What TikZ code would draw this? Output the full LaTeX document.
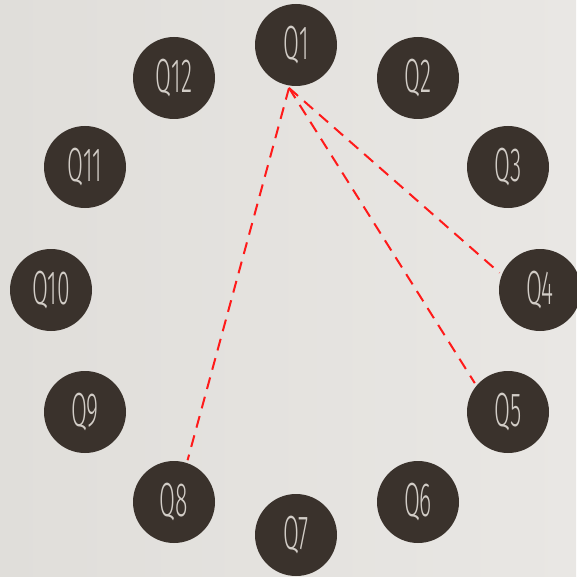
\documentclass[tikz,border=0pt]{standalone}
\usepackage{fontspec}
\newfontfamily\qfont{Fira Sans Light}
\definecolor{bgc}{HTML}{E0DEDA}
\definecolor{bgl}{HTML}{E9E7E4}
\definecolor{disc}{HTML}{3A322C}
\definecolor{qtxt}{HTML}{D2CDC7}
\definecolor{dred}{HTML}{FF1A1A}
\tikzset{
  qdisc/.style={circle, fill=disc, minimum size=82pt, inner sep=0pt, outer sep=3pt,
    text=qtxt, font=\qfont\fontsize{48}{48}\selectfont},
  dashline/.style={draw=dred, line width=2pt, dash pattern=on 12pt off 8pt}
}
\newcommand{\ql}[1]{\scalebox{0.48}[1]{#1}}
\begin{document}
\begin{tikzpicture}[x=1pt,y=-1pt]
\shade[left color=bgc, right color=bgl] (0,0) rectangle (576,577);
\useasboundingbox (0,0) rectangle (576,577);
\node[qdisc] (Q1) at (296,45) {\ql{Q1}};
\node[qdisc] (Q2) at (418,78) {\ql{Q2}};
\node[qdisc] (Q3) at (508,167) {\ql{Q3}};
\node[qdisc] (Q4) at (540,290) {\ql{Q4}};
\node[qdisc] (Q5) at (508,412) {\ql{Q5}};
\node[qdisc] (Q6) at (418,502) {\ql{Q6}};
\node[qdisc] (Q7) at (296,535) {\ql{Q7}};
\node[qdisc] (Q8) at (174,502) {\ql{Q8}};
\node[qdisc] (Q9) at (85,412) {\ql{Q9}};
\node[qdisc] (Q10) at (51,290) {\ql{Q10}};
\node[qdisc] (Q11) at (85,167) {\ql{Q11}};
\node[qdisc] (Q12) at (174,78) {\ql{Q12}};
\coordinate (s) at (289,88);
\draw[dashline] (s) -- (Q8.72);
\draw[dashline] (s) -- (Q4.157);
\draw[dashline] (s) -- (Q5.139);
\end{tikzpicture}
\end{document}
